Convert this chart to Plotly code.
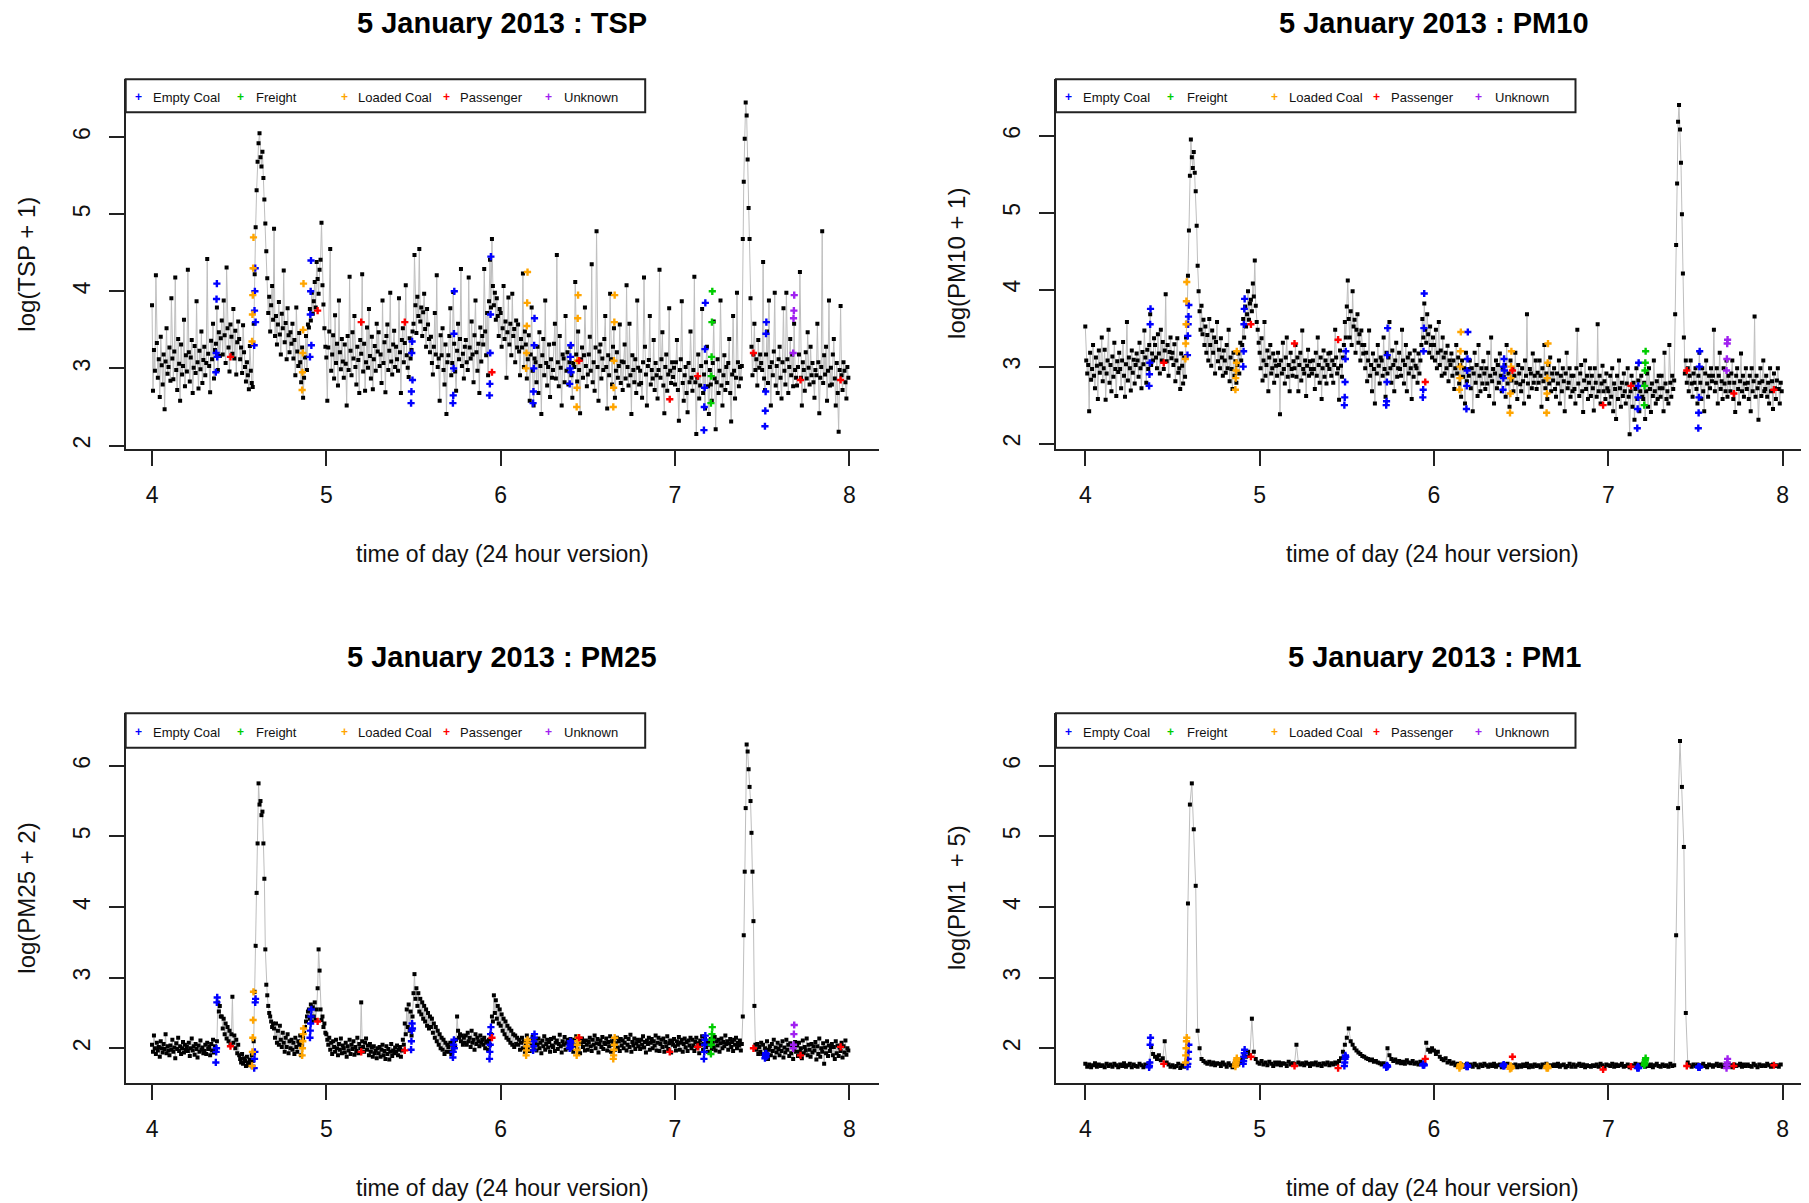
import plotly.graph_objects as go

# ---------------- DATA ----------------
# Each row holds the readings of one 6-minute block (0.1 h) from 04:00 to 08:00.
block_hours = 0.1
start_hour = 4

tsp_rows = [
    [3.82, 2.71, 3.24, 2.97, 4.21, 3.33, 2.88, 3.12, 2.63, 3.41, 3.04, 2.79, 3.18, 2.47, 3.09, 3.52, 2.93, 3.02],
    [3.27, 2.84, 3.91, 3.13, 2.86, 3.22, 4.18, 2.98, 2.72, 3.38, 3.06, 2.58, 3.31, 2.92, 3.03, 3.63, 2.77, 3.17],
    [2.96, 4.28, 3.21, 2.83, 3.14, 3.37, 2.68, 3.01, 3.29, 2.94, 3.87, 3.08, 2.74, 3.23, 2.99, 3.48, 2.81, 3.11],
    [3.28, 2.91, 3.07, 4.42, 3.19, 3.03, 2.69, 3.36, 3.12, 3.58, 2.87, 3.24, 3.32, 3.79, 2.98, 3.47, 3.16, 3.39],
    [3.62, 3.18, 3.88, 3.43, 3.07, 4.31, 3.52, 3.27, 2.96, 3.57, 3.41, 3.19, 3.77, 3.13, 3.49, 2.92, 3.34, 3.61],
    [3.38, 3.12, 3.27, 2.94, 3.56, 3.21, 3.02, 2.83, 3.08, 2.91, 2.73, 3.29, 2.97, 2.81, 2.76, 3.58, 4.22, 4.83],
    [5.31, 5.68, 5.92, 6.05, 5.74, 5.62, 5.81, 5.47, 5.19, 4.88, 4.52, 4.17, 3.72, 3.93, 3.48, 3.82, 4.07, 3.63],
    [4.81, 3.42, 3.68, 3.31, 3.57, 3.86, 3.44, 3.18, 3.71, 3.52, 4.27, 3.34, 3.59, 3.12, 3.78, 3.43, 3.21, 3.47],
    [3.32, 3.58, 3.13, 3.37, 2.91, 3.79, 3.22, 3.03, 3.46, 3.08, 2.82, 3.27, 2.62, 2.88, 3.14, 3.42, 2.98, 3.57],
    [3.53, 3.77, 3.62, 3.98, 3.71, 3.87, 4.12, 3.79, 4.38, 4.16, 3.97, 4.28, 4.41, 4.89, 4.08, 3.83, 3.52, 3.28],
    [3.14, 2.58, 3.27, 3.48, 4.55, 2.97, 3.18, 3.43, 2.87, 3.69, 3.07, 3.32, 2.78, 3.88, 3.21, 2.99, 3.38, 3.09],
    [2.88, 3.31, 3.06, 2.52, 3.42, 2.98, 4.19, 3.23, 2.91, 3.47, 3.13, 3.68, 3.02, 2.79, 3.28, 3.11, 2.68, 3.37],
    [3.19, 4.22, 2.96, 3.32, 2.71, 3.08, 3.53, 3.01, 3.77, 3.16, 2.87, 3.41, 2.73, 3.12, 3.29, 2.97, 3.58, 3.22],
    [3.47, 3.03, 3.18, 2.81, 3.88, 3.07, 3.34, 2.69, 3.42, 3.57, 2.98, 3.23, 3.98, 3.09, 2.92, 3.31, 3.49, 3.02],
    [3.28, 3.12, 2.97, 3.91, 3.21, 2.68, 3.37, 3.52, 3.08, 3.33, 4.08, 3.17, 3.01, 2.89, 3.39, 3.13, 3.24, 3.48],
    [3.58, 4.47, 3.82, 3.46, 3.93, 3.68, 4.55, 3.61, 3.79, 3.42, 3.73, 3.97, 3.51, 3.28, 3.77, 3.57, 3.38, 3.21],
    [3.41, 3.07, 2.92, 3.28, 3.72, 3.18, 4.21, 3.02, 3.13, 2.58, 3.43, 3.17, 3.52, 2.98, 2.79, 3.31, 2.41, 3.08],
    [3.17, 3.42, 3.78, 2.91, 3.07, 3.99, 3.32, 2.96, 2.71, 3.23, 3.58, 3.12, 3.38, 4.29, 3.03, 3.19, 2.87, 3.28],
    [3.37, 3.08, 2.98, 4.18, 3.27, 3.13, 3.61, 3.18, 2.82, 3.43, 3.88, 3.21, 2.97, 3.32, 2.68, 3.53, 3.09, 3.42],
    [3.31, 4.29, 3.48, 3.17, 3.72, 2.91, 3.87, 4.41, 3.79, 4.68, 4.07, 3.82, 3.98, 3.63, 3.91, 3.68, 3.42, 3.77],
    [3.72, 3.28, 3.52, 4.07, 3.38, 3.61, 2.88, 3.47, 3.92, 3.31, 3.58, 3.17, 3.97, 3.42, 3.51, 3.08, 3.62, 3.27],
    [3.57, 3.22, 2.91, 3.38, 3.27, 4.23, 3.02, 3.48, 3.31, 2.87, 3.12, 3.43, 2.58, 3.18, 3.79, 2.97, 2.52, 3.13],
    [3.08, 2.82, 3.28, 2.68, 3.47, 3.03, 2.41, 3.17, 3.38, 2.91, 3.88, 3.07, 2.78, 3.02, 3.31, 2.63, 3.12, 2.88],
    [2.98, 3.32, 3.58, 2.87, 4.47, 3.08, 2.77, 3.42, 3.01, 2.52, 3.18, 3.13, 2.82, 3.68, 2.97, 3.21, 2.79, 3.08],
    [3.28, 2.91, 2.62, 3.07, 3.02, 4.12, 3.18, 2.83, 3.48, 2.98, 2.42, 3.12, 3.27, 2.88, 3.17, 3.79, 3.03, 2.77],
    [2.92, 3.18, 3.41, 2.97, 4.35, 2.82, 3.08, 2.71, 3.27, 4.78, 3.02, 2.58, 3.22, 3.31, 2.87, 3.13, 2.98, 3.38],
    [3.68, 3.02, 2.48, 3.17, 2.91, 3.97, 3.12, 2.79, 3.28, 3.52, 2.62, 2.97, 3.21, 2.88, 3.03, 3.57, 2.81, 3.09],
    [2.72, 3.08, 3.31, 2.87, 4.08, 3.02, 2.78, 3.58, 2.91, 2.41, 3.17, 2.98, 2.82, 3.12, 2.68, 3.88, 3.01, 2.79],
    [2.97, 2.81, 2.62, 3.08, 4.18, 3.28, 2.92, 2.52, 3.03, 3.11, 3.68, 2.79, 2.98, 2.87, 3.37, 2.72, 3.07, 2.91],
    [2.61, 2.98, 4.28, 2.88, 3.12, 3.47, 2.78, 2.42, 3.02, 3.18, 2.71, 2.92, 3.78, 2.97, 2.81, 3.08, 2.89, 3.01],
    [2.79, 3.08, 3.37, 2.72, 2.32, 2.98, 3.12, 3.87, 2.81, 2.58, 2.91, 3.02, 2.68, 2.43, 3.07, 2.82, 3.48, 2.88],
    [2.71, 2.98, 4.19, 2.82, 2.15, 2.88, 3.18, 2.61, 2.78, 3.03, 3.77, 2.68, 2.92, 2.48, 3.08, 3.28, 2.77, 2.41],
    [2.98, 2.79, 2.58, 3.07, 3.61, 2.87, 2.21, 2.82, 3.12, 2.68, 2.97, 3.88, 2.78, 2.52, 2.91, 3.17, 2.72, 3.02],
    [2.81, 3.07, 3.38, 2.68, 2.31, 2.92, 3.68, 2.97, 2.61, 2.88, 3.98, 3.08, 2.77, 3.02, 2.87, 3.03, 4.68, 5.42],
    [5.98, 6.45, 6.28, 5.71, 5.08, 4.68, 3.91, 3.28, 2.91, 3.18, 3.58, 2.98, 3.12, 2.78, 3.37, 3.01, 3.18, 3.07],
    [2.98, 4.38, 2.87, 2.72, 3.18, 3.48, 2.81, 3.88, 3.02, 2.52, 3.08, 2.91, 3.22, 3.98, 2.78, 3.03, 2.68, 3.12],
    [3.28, 2.88, 2.61, 3.08, 3.78, 2.97, 2.79, 3.98, 3.12, 2.68, 3.02, 3.38, 2.91, 3.18, 2.77, 3.58, 2.98, 2.88],
    [2.78, 3.02, 3.18, 4.25, 2.88, 2.52, 3.08, 2.98, 2.71, 3.21, 2.87, 3.47, 3.01, 2.79, 3.28, 2.91, 3.07, 2.82],
    [2.62, 2.98, 2.91, 3.58, 3.08, 2.42, 2.88, 3.02, 4.78, 2.81, 3.17, 2.92, 3.28, 2.58, 2.97, 3.88, 2.78, 3.01],
    [2.79, 3.18, 3.38, 2.87, 2.52, 3.07, 2.68, 2.18, 2.98, 3.81, 2.91, 2.72, 3.08, 2.97, 2.82, 2.61, 3.02, 2.88],
]

pm10_rows = [
    [3.52, 3.08, 2.91, 3.02, 2.42, 3.18, 2.83, 2.97, 3.28, 2.88, 2.72, 3.12, 3.01, 2.58, 3.21, 2.92, 3.03, 3.38],
    [2.81, 2.98, 3.22, 2.57, 2.91, 3.08, 3.48, 2.79, 3.02, 2.68, 3.13, 2.87, 3.31, 2.97, 2.62, 3.07, 2.93, 3.18],
    [2.97, 2.72, 3.08, 3.32, 2.88, 2.61, 3.03, 3.58, 2.82, 3.12, 2.98, 2.69, 3.21, 2.92, 3.09, 2.78, 3.02, 3.17],
    [3.08, 2.87, 3.31, 2.98, 2.72, 3.19, 3.03, 3.47, 3.12, 2.79, 3.22, 2.97, 3.28, 3.68, 3.02, 3.17, 3.08, 3.37],
    [3.28, 3.12, 2.98, 3.42, 3.17, 2.91, 3.48, 3.08, 3.32, 2.97, 3.21, 3.94, 3.07, 3.28, 2.88, 3.19, 3.38, 3.11],
    [3.18, 3.02, 3.29, 2.81, 3.08, 3.37, 2.92, 2.98, 2.71, 3.17, 3.01, 2.78, 3.12, 2.87, 3.38, 3.57, 4.18, 4.77],
    [5.48, 5.95, 5.72, 5.58, 5.79, 5.52, 5.28, 4.83, 4.31, 3.98, 3.72, 3.48, 3.79, 3.42, 3.61, 3.28, 3.52, 3.18],
    [3.41, 3.08, 3.62, 3.28, 3.01, 3.47, 3.18, 3.38, 2.91, 3.32, 3.58, 3.07, 3.22, 2.98, 3.37, 3.12, 2.88, 3.21],
    [3.08, 2.92, 3.28, 2.98, 3.48, 2.81, 3.12, 2.97, 2.71, 3.18, 2.88, 3.07, 2.79, 3.02, 3.17, 2.91, 3.31, 3.08],
    [3.28, 3.62, 3.38, 3.78, 3.52, 3.68, 3.98, 3.61, 3.82, 3.87, 3.72, 4.08, 3.91, 4.38, 3.79, 3.58, 3.48, 3.31],
    [3.18, 2.98, 3.37, 2.82, 3.08, 3.58, 2.88, 3.02, 3.21, 2.68, 3.12, 3.28, 2.91, 2.98, 3.17, 2.79, 3.08, 3.01],
    [2.88, 3.18, 3.02, 2.38, 3.08, 2.91, 3.31, 2.97, 2.78, 3.12, 3.38, 2.87, 3.02, 2.68, 3.18, 2.97, 2.88, 3.07],
    [2.98, 3.28, 2.87, 3.12, 2.68, 3.02, 3.18, 2.82, 3.47, 2.97, 2.91, 3.08, 2.62, 3.01, 3.22, 2.88, 3.07, 2.97],
    [2.91, 3.08, 2.97, 2.71, 3.18, 2.88, 3.38, 3.02, 2.79, 3.12, 2.58, 2.98, 3.21, 2.87, 3.08, 2.78, 3.02, 3.17],
    [2.97, 3.18, 2.88, 3.08, 2.79, 3.02, 3.48, 3.12, 2.91, 2.98, 2.57, 3.21, 3.01, 2.87, 3.12, 3.28, 3.58, 3.38],
    [3.78, 4.12, 3.62, 3.38, 3.72, 3.28, 3.98, 3.52, 3.61, 3.18, 3.48, 3.68, 3.31, 3.42, 3.08, 3.47, 3.28, 3.17],
    [3.28, 2.98, 3.18, 2.81, 3.08, 3.47, 2.88, 3.02, 2.68, 3.17, 2.97, 2.52, 3.08, 2.91, 3.28, 3.01, 2.78, 3.12],
    [3.08, 2.88, 3.38, 2.97, 2.61, 3.18, 2.91, 3.12, 3.58, 2.98, 2.79, 3.21, 3.02, 2.68, 3.08, 3.31, 2.87, 2.98],
    [3.18, 2.97, 2.88, 3.48, 3.08, 2.78, 3.02, 3.28, 2.68, 3.12, 2.91, 3.17, 2.98, 2.58, 3.08, 2.87, 3.21, 3.01],
    [2.98, 2.79, 3.17, 2.91, 3.08, 3.28, 3.62, 3.38, 3.82, 3.48, 3.31, 3.68, 3.42, 3.18, 3.52, 3.28, 3.12, 3.38],
    [3.28, 3.08, 3.48, 2.98, 3.18, 3.58, 3.02, 3.21, 2.88, 3.38, 3.12, 2.91, 3.18, 2.98, 3.27, 2.81, 3.08, 3.02],
    [3.17, 2.88, 3.08, 2.71, 2.98, 3.28, 2.91, 3.12, 2.78, 3.02, 2.61, 3.08, 2.87, 2.98, 2.52, 3.18, 2.81, 2.97],
    [2.88, 3.08, 2.72, 2.98, 2.42, 2.91, 3.18, 2.79, 3.02, 2.62, 3.28, 2.88, 2.68, 2.98, 2.78, 3.07, 2.91, 2.71],
    [2.98, 2.78, 3.18, 2.62, 2.88, 3.38, 2.81, 2.97, 2.52, 2.91, 3.08, 2.72, 3.02, 2.79, 3.17, 2.88, 2.68, 2.98],
    [2.87, 3.02, 2.61, 3.28, 2.78, 2.91, 2.48, 3.08, 2.82, 2.97, 2.68, 2.88, 3.18, 2.79, 2.58, 3.02, 2.91, 2.77],
    [2.68, 2.98, 2.81, 2.52, 3.08, 2.88, 3.68, 2.78, 2.61, 2.97, 2.91, 2.72, 3.17, 2.79, 2.88, 3.08, 2.71, 2.92],
    [2.79, 3.08, 2.88, 2.48, 2.98, 2.81, 3.28, 2.72, 2.91, 2.58, 3.02, 2.78, 3.12, 2.68, 2.91, 2.82, 2.98, 2.71],
    [2.61, 2.91, 2.78, 3.08, 2.52, 2.88, 2.68, 2.98, 2.81, 2.42, 2.91, 3.18, 2.72, 2.79, 2.98, 2.61, 2.88, 2.68],
    [2.88, 2.71, 2.52, 2.98, 3.48, 2.78, 2.62, 2.91, 3.02, 2.68, 2.41, 2.82, 3.08, 2.71, 2.88, 2.58, 2.79, 2.98],
    [2.62, 2.88, 2.72, 2.43, 2.98, 2.79, 2.61, 3.55, 2.68, 2.88, 2.52, 2.78, 3.01, 2.68, 2.81, 2.58, 2.91, 2.72],
    [2.68, 2.52, 2.88, 2.61, 2.98, 2.42, 2.78, 2.71, 2.32, 2.88, 2.58, 3.08, 2.72, 2.48, 2.79, 2.62, 2.91, 2.68],
    [2.52, 2.78, 2.98, 2.61, 2.12, 2.68, 2.88, 2.48, 2.79, 2.31, 2.71, 2.98, 2.58, 2.82, 2.42, 2.68, 2.88, 2.61],
    [2.58, 2.79, 2.32, 2.68, 2.91, 2.48, 2.98, 2.71, 2.41, 2.78, 2.62, 3.08, 2.68, 2.52, 2.81, 2.58, 2.88, 2.72],
    [2.61, 2.88, 2.72, 2.42, 3.18, 2.78, 2.58, 2.68, 2.52, 3.28, 2.79, 2.61, 2.88, 2.71, 2.82, 3.68, 4.58, 5.38],
    [6.18, 6.40, 6.08, 5.65, 4.98, 4.21, 3.38, 2.91, 3.08, 2.79, 2.98, 2.68, 2.88, 3.08, 2.78, 2.61, 2.91, 2.79],
    [2.98, 2.71, 2.52, 2.88, 3.18, 2.79, 2.58, 2.98, 2.68, 2.42, 2.91, 3.08, 2.78, 2.61, 2.88, 2.72, 2.98, 2.81],
    [2.88, 3.48, 2.68, 2.79, 2.98, 2.52, 2.88, 3.18, 2.71, 2.81, 2.58, 2.98, 2.78, 2.68, 3.08, 2.61, 2.88, 2.79],
    [2.68, 2.91, 3.08, 2.58, 2.79, 2.41, 2.88, 2.98, 2.71, 2.52, 2.81, 3.17, 2.68, 2.88, 2.61, 2.78, 2.98, 2.71],
    [2.79, 2.58, 2.88, 2.42, 2.98, 2.68, 2.81, 3.65, 2.61, 2.88, 2.72, 2.31, 2.79, 2.98, 2.62, 2.81, 3.08, 2.68],
    [2.71, 2.88, 2.61, 2.79, 2.52, 2.98, 2.68, 2.81, 2.45, 2.91, 2.72, 2.58, 2.82, 2.98, 2.71, 2.52, 2.79, 2.68],
]

pm25_rows = [
    [2.05, 1.95, 2.18, 2.00, 1.92, 2.08, 1.97, 2.02, 1.88, 2.10, 2.00, 1.94, 2.06, 1.99, 2.20, 1.93, 2.03, 1.97],
    [1.90, 2.04, 1.98, 2.12, 1.95, 2.01, 1.86, 2.07, 1.99, 2.15, 1.96, 2.03, 1.92, 2.00, 2.09, 1.94, 2.05, 1.98],
    [2.02, 1.96, 2.08, 1.89, 2.00, 2.14, 1.97, 2.03, 1.91, 2.06, 1.99, 1.87, 2.04, 1.95, 2.11, 1.98, 2.01, 1.93],
    [1.96, 2.05, 1.92, 2.08, 1.99, 2.02, 1.90, 2.06, 1.97, 2.12, 1.94, 2.03, 1.98, 2.10, 2.65, 2.52, 2.60, 2.45],
    [2.45, 2.28, 2.42, 2.20, 2.35, 2.14, 2.30, 2.10, 2.25, 2.05, 2.20, 2.73, 2.08, 2.18, 2.00, 2.12, 1.93, 2.05],
    [1.90, 1.85, 1.80, 1.92, 1.78, 1.86, 1.82, 1.75, 1.88, 1.80, 1.76, 1.84, 1.79, 1.90, 1.82, 2.10, 2.80, 3.45],
    [4.20, 4.90, 5.75, 5.45, 5.50, 5.30, 5.35, 4.90, 4.40, 3.40, 2.90, 2.75, 2.60, 2.50, 2.45, 2.38, 2.30, 2.35],
    [2.28, 2.15, 2.35, 2.08, 2.25, 2.05, 2.32, 2.12, 2.02, 2.22, 2.08, 1.95, 2.15, 2.02, 2.20, 1.93, 2.10, 2.00],
    [2.12, 1.98, 2.08, 1.92, 2.15, 2.02, 1.95, 2.10, 2.05, 2.18, 1.90, 2.05, 2.15, 2.22, 2.30, 2.38, 2.45, 2.52],
    [2.55, 2.42, 2.62, 2.38, 2.58, 2.45, 2.65, 2.40, 2.55, 2.85, 3.40, 3.10, 2.55, 2.40, 2.45, 2.30, 2.35, 2.22],
    [2.20, 2.12, 2.05, 2.15, 1.98, 2.08, 1.92, 2.10, 2.02, 1.95, 2.12, 2.00, 1.90, 2.06, 1.98, 2.14, 1.93, 2.04],
    [2.00, 1.94, 2.08, 1.88, 2.03, 1.97, 2.12, 1.92, 2.05, 1.99, 2.10, 1.91, 2.02, 1.96, 2.15, 1.93, 2.06, 2.00],
    [2.65, 2.10, 2.02, 1.95, 2.08, 2.14, 1.98, 2.04, 1.90, 2.06, 1.95, 2.01, 1.88, 2.03, 1.93, 1.97, 1.86, 2.00],
    [1.93, 2.02, 1.88, 1.98, 2.05, 1.90, 1.96, 1.85, 2.03, 1.92, 1.99, 1.84, 1.95, 2.06, 1.89, 1.97, 1.93, 2.01],
    [1.95, 2.04, 1.90, 1.98, 2.02, 1.88, 1.97, 2.12, 2.05, 2.35, 2.20, 2.55, 2.30, 2.62, 2.25, 2.52, 2.18, 2.45],
    [2.78, 3.05, 2.70, 2.85, 2.60, 2.78, 2.52, 2.70, 2.48, 2.65, 2.42, 2.60, 2.38, 2.55, 2.32, 2.50, 2.28, 2.45],
    [2.30, 2.42, 2.22, 2.35, 2.15, 2.30, 2.10, 2.25, 2.05, 2.20, 2.00, 2.15, 1.98, 2.12, 1.92, 2.08, 1.95, 2.05],
    [2.02, 1.95, 2.08, 1.92, 2.05, 1.98, 2.10, 2.02, 2.12, 2.45, 2.25, 2.15, 2.20, 2.10, 2.18, 2.05, 2.15, 2.08],
    [2.18, 2.05, 2.22, 2.10, 2.15, 2.02, 2.25, 2.08, 2.12, 1.98, 2.20, 2.06, 2.15, 2.10, 2.03, 2.18, 2.08, 2.12],
    [2.05, 2.15, 2.00, 2.10, 2.08, 1.98, 2.12, 2.05, 2.20, 2.45, 2.38, 2.75, 2.50, 2.68, 2.42, 2.60, 2.35, 2.55],
    [2.32, 2.48, 2.25, 2.42, 2.20, 2.38, 2.15, 2.32, 2.12, 2.28, 2.08, 2.25, 2.05, 2.20, 2.02, 2.18, 2.06, 2.15],
    [2.05, 2.12, 1.98, 2.08, 2.15, 2.00, 2.10, 1.95, 2.06, 2.18, 2.02, 2.09, 1.96, 2.12, 2.04, 2.16, 1.99, 2.07],
    [2.10, 1.97, 2.05, 2.14, 2.00, 2.08, 1.93, 2.11, 2.03, 2.17, 1.98, 2.06, 2.12, 2.01, 2.09, 1.95, 2.13, 2.04],
    [2.02, 2.15, 1.96, 2.08, 2.11, 1.99, 2.06, 2.19, 2.03, 1.94, 2.10, 2.05, 2.16, 1.98, 2.07, 2.12, 2.00, 2.09],
    [2.13, 2.01, 2.08, 1.95, 2.12, 2.04, 2.17, 1.99, 2.06, 2.10, 1.93, 2.08, 2.14, 2.02, 2.09, 1.97, 2.11, 2.05],
    [1.98, 2.09, 2.15, 2.03, 1.96, 2.12, 2.05, 2.18, 2.00, 2.07, 2.13, 1.94, 2.06, 2.11, 2.02, 2.16, 1.99, 2.08],
    [2.06, 2.14, 1.97, 2.09, 2.03, 2.17, 1.95, 2.10, 2.05, 2.12, 1.98, 2.07, 2.15, 2.01, 2.10, 1.96, 2.13, 2.04],
    [2.11, 2.00, 2.08, 2.16, 1.97, 2.05, 2.13, 2.02, 2.19, 1.95, 2.09, 2.04, 2.14, 1.99, 2.07, 2.12, 2.03, 2.10],
    [1.99, 2.12, 2.05, 2.17, 2.01, 2.09, 1.94, 2.11, 2.06, 2.15, 1.98, 2.08, 2.13, 2.00, 2.10, 2.04, 2.18, 1.97],
    [2.08, 2.15, 1.96, 2.06, 2.12, 2.02, 2.14, 1.95, 2.09, 2.03, 2.17, 1.99, 2.07, 2.11, 1.94, 2.10, 2.05, 2.13],
    [2.03, 1.97, 2.10, 2.05, 2.16, 1.98, 2.08, 2.12, 1.95, 2.06, 2.14, 2.01, 2.09, 1.96, 2.11, 2.04, 2.15, 2.00],
    [2.12, 2.04, 1.96, 2.09, 2.15, 2.01, 2.07, 1.93, 2.11, 2.05, 2.17, 1.98, 2.06, 2.13, 2.02, 2.08, 1.95, 2.10],
    [2.05, 2.13, 1.99, 2.08, 2.02, 2.16, 1.97, 2.10, 2.04, 2.12, 1.95, 2.07, 2.14, 2.00, 2.09, 2.03, 2.18, 2.06],
    [2.10, 1.98, 2.07, 2.13, 2.02, 2.09, 1.96, 2.12, 2.05, 2.15, 2.00, 2.08, 2.04, 2.11, 1.97, 2.06, 2.45, 3.60],
    [4.50, 5.40, 6.30, 6.20, 5.95, 5.70, 5.50, 5.05, 4.50, 3.80, 2.60, 2.05, 1.98, 2.06, 1.92, 2.02, 1.95, 2.08],
    [1.92, 2.05, 1.88, 2.00, 1.95, 2.10, 1.85, 1.98, 2.03, 1.90, 2.06, 1.96, 2.12, 1.87, 2.01, 1.94, 2.08, 1.99],
    [1.90, 2.04, 1.96, 2.10, 1.87, 2.01, 1.94, 2.12, 1.98, 2.05, 1.89, 2.07, 1.93, 2.02, 1.85, 1.99, 2.09, 1.95],
    [2.04, 1.89, 2.08, 1.95, 2.00, 1.86, 2.11, 1.93, 2.02, 1.97, 2.14, 1.90, 2.05, 1.98, 1.88, 2.06, 1.94, 2.03],
    [1.97, 2.09, 1.84, 2.03, 1.92, 2.14, 1.88, 2.00, 1.95, 2.07, 1.78, 2.01, 1.93, 2.10, 1.89, 2.04, 1.96, 2.02],
    [2.06, 1.90, 2.02, 1.85, 2.10, 1.93, 2.04, 1.89, 2.01, 1.96, 2.08, 1.87, 2.03, 1.94, 2.11, 1.91, 2.00, 1.97],
]

pm1_rows = [
    [1.78, 1.74, 1.77, 1.73, 1.76, 1.79, 1.74, 1.77, 1.75],
    [1.76, 1.73, 1.78, 1.75, 1.77, 1.74, 1.78, 1.76, 1.73],
    [1.77, 1.75, 1.79, 1.74, 1.76, 1.78, 1.73, 1.77, 1.75],
    [1.74, 1.78, 1.76, 1.73, 1.77, 1.75, 1.79, 2.02, 1.92],
    [1.88, 1.85, 1.90, 1.83, 1.86, 2.10, 1.80, 1.77, 1.74],
    [1.76, 1.73, 1.75, 1.78, 1.72, 1.76, 1.74, 1.80, 4.05],
    [5.45, 5.75, 5.10, 4.30, 2.25, 2.00, 1.85, 1.82, 1.80],
    [1.78, 1.81, 1.77, 1.80, 1.76, 1.79, 1.78, 1.75, 1.80],
    [1.77, 1.74, 1.79, 1.76, 1.73, 1.78, 1.80, 1.77, 1.82],
    [1.86, 1.92, 1.88, 1.95, 1.90, 2.42, 1.95, 1.85, 1.80],
    [1.78, 1.82, 1.77, 1.80, 1.76, 1.81, 1.78, 1.75, 1.80],
    [1.77, 1.80, 1.76, 1.79, 1.78, 1.75, 1.81, 1.77, 1.79],
    [1.78, 2.05, 1.80, 1.77, 1.79, 1.76, 1.80, 1.78, 1.75],
    [1.79, 1.77, 1.80, 1.76, 1.78, 1.75, 1.79, 1.77, 1.80],
    [1.76, 1.79, 1.77, 1.80, 1.78, 1.82, 1.86, 1.95, 2.05],
    [2.15, 2.28, 2.10, 2.05, 2.00, 1.97, 1.94, 1.92, 1.89],
    [1.88, 1.86, 1.85, 1.83, 1.84, 1.81, 1.82, 1.80, 1.79],
    [1.77, 1.79, 1.76, 2.00, 1.90, 1.85, 1.82, 1.84, 1.80],
    [1.82, 1.79, 1.81, 1.78, 1.83, 1.80, 1.79, 1.82, 1.78],
    [1.80, 1.77, 1.81, 1.79, 1.78, 2.08, 1.98, 1.95, 2.00],
    [1.97, 1.92, 1.95, 1.88, 1.85, 1.83, 1.86, 1.80, 1.82],
    [1.78, 1.80, 1.76, 1.78, 1.75, 1.77, 1.74, 1.76, 1.78],
    [1.75, 1.77, 1.74, 1.78, 1.76, 1.73, 1.77, 1.75, 1.78],
    [1.76, 1.74, 1.77, 1.75, 1.78, 1.74, 1.76, 1.77, 1.73],
    [1.77, 1.75, 1.78, 1.74, 1.76, 1.75, 1.77, 1.73, 1.76],
    [1.74, 1.77, 1.75, 1.78, 1.73, 1.76, 1.74, 1.77, 1.75],
    [1.76, 1.73, 1.77, 1.75, 1.78, 1.74, 1.76, 1.75, 1.77],
    [1.75, 1.78, 1.74, 1.76, 1.77, 1.73, 1.75, 1.78, 1.74],
    [1.77, 1.74, 1.76, 1.78, 1.75, 1.77, 1.73, 1.76, 1.75],
    [1.74, 1.76, 1.75, 1.77, 1.74, 1.78, 1.76, 1.73, 1.77],
    [1.76, 1.75, 1.78, 1.74, 1.77, 1.75, 1.76, 1.78, 1.74],
    [1.75, 1.77, 1.73, 1.76, 1.75, 1.78, 1.74, 1.77, 1.76],
    [1.78, 1.74, 1.76, 1.75, 1.77, 1.73, 1.76, 1.78, 1.75],
    [1.74, 1.77, 1.75, 1.76, 1.74, 1.78, 1.75, 1.76, 3.60],
    [5.40, 6.35, 5.70, 4.85, 2.50, 1.80, 1.76, 1.74, 1.77],
    [1.75, 1.77, 1.74, 1.76, 1.78, 1.75, 1.73, 1.77, 1.76],
    [1.74, 1.76, 1.78, 1.75, 1.77, 1.74, 1.76, 1.75, 1.78],
    [1.76, 1.73, 1.77, 1.75, 1.76, 1.78, 1.74, 1.77, 1.75],
    [1.77, 1.75, 1.74, 1.78, 1.76, 1.73, 1.77, 1.75, 1.76],
    [1.75, 1.78, 1.76, 1.74, 1.77, 1.75, 1.76, 1.74, 1.77],
]

# train passages (time of day, hours) and the readings marked for each train type
empty_coal_time = [
    4.366, 4.368, 4.370, 4.372, 4.374,
    4.586, 4.588, 4.590, 4.592, 4.594,
    4.906, 4.908, 4.910, 4.912, 4.914,
    5.486, 5.488, 5.490, 5.492, 5.494,
    5.726, 5.728, 5.730, 5.732, 5.734,
    5.936, 5.938, 5.940, 5.942, 5.944,
    6.186, 6.188, 6.190, 6.192, 6.194,
    6.396, 6.398, 6.400, 6.402, 6.404,
    7.166, 7.168, 7.170, 7.172, 7.174,
    7.516, 7.518, 7.520, 7.522, 7.524,
]
empty_coal_tsp = [2.95, 3.2, 3.9, 4.1, 3.15, 3.3, 3.75, 4.0, 4.3, 3.6,
                  3.15, 3.7, 4.0, 4.4, 3.3, 2.55, 2.7, 3.2, 3.35, 2.85,
                  2.55, 2.65, 3.0, 3.45, 4.0, 2.65, 2.8, 3.2, 3.7, 4.45,
                  2.55, 2.7, 3.0, 3.3, 3.65, 2.8, 3.0, 3.15, 3.3, 2.95,
                  2.2, 2.5, 2.75, 3.25, 3.85, 2.25, 2.45, 2.7, 3.45, 3.6]
empty_coal_pm10 = [2.75, 2.9, 3.05, 3.55, 3.75, 3.15, 3.4, 3.55, 3.65, 3.8,
                   3.0, 3.2, 3.55, 3.75, 3.88, 2.5, 2.6, 2.8, 3.1, 3.2,
                   2.5, 2.55, 2.8, 3.15, 3.5, 2.6, 2.7, 3.2, 3.5, 3.95,
                   2.45, 2.75, 2.95, 3.1, 3.45, 2.7, 2.85, 3.0, 3.1, 2.95,
                   2.2, 2.45, 2.6, 2.75, 3.05, 2.2, 2.4, 2.6, 3.0, 3.2]
empty_coal_pm25 = [1.8, 1.95, 2.0, 2.65, 2.72, 1.72, 1.85, 1.95, 2.65, 2.7,
                   2.15, 2.25, 2.35, 2.45, 2.55, 1.98, 2.1, 2.25, 2.35, 2.28,
                   1.87, 1.95, 2.05, 2.12, 2.0, 1.85, 1.95, 2.05, 2.2, 2.3,
                   1.97, 2.03, 2.1, 2.15, 2.2, 2.0, 2.05, 2.1, 2.02, 2.08,
                   1.85, 1.95, 2.05, 2.12, 2.18, 1.86, 1.9, 1.93, 1.88, 1.92]
empty_coal_pm1 = [1.73, 1.75, 1.8, 2.05, 2.15, 1.74, 1.78, 1.85, 1.95, 2.05,
                  1.78, 1.82, 1.88, 1.93, 1.98, 1.75, 1.8, 1.85, 1.9, 1.88,
                  1.73, 1.74, 1.76, 1.75, 1.74, 1.76, 1.77, 1.78, 1.77, 1.76,
                  1.74, 1.75, 1.76, 1.75, 1.74, 1.76, 1.75, 1.77, 1.76, 1.75,
                  1.72, 1.73, 1.74, 1.73, 1.72, 1.73, 1.74, 1.73, 1.74, 1.73]

loaded_coal_time = [
    4.574, 4.576, 4.578, 4.580, 4.582,
    4.861, 4.863, 4.865, 4.867, 4.869,
    6.146, 6.148, 6.150, 6.152, 6.154,
    6.436, 6.438, 6.440, 6.442, 6.444,
    6.646, 6.648, 6.650, 6.652, 6.654,
]
loaded_coal_tsp = [3.35, 3.7, 3.95, 4.3, 4.7, 2.72, 2.95, 3.2, 3.5, 4.1,
                   3.0, 3.2, 3.55, 3.85, 4.25, 2.5, 2.75, 3.1, 3.65, 3.95,
                   2.5, 2.75, 3.1, 3.6, 3.95]
loaded_coal_pm10 = [3.1, 3.3, 3.55, 3.85, 4.1, 2.7, 2.85, 2.95, 3.05, 3.2,
                    2.7, 2.85, 3.0, 3.2, 3.45, 2.4, 2.65, 2.85, 3.0, 3.2,
                    2.4, 2.65, 2.85, 3.05, 3.3]
loaded_coal_pm25 = [1.75, 1.95, 2.15, 2.4, 2.8, 1.9, 2.0, 2.1, 2.2, 2.28,
                    1.9, 1.97, 2.03, 2.08, 2.12, 1.9, 1.98, 2.05, 2.1, 2.15,
                    1.85, 1.9, 1.98, 2.05, 2.15]
loaded_coal_pm1 = [1.8, 1.9, 2.0, 2.1, 2.15, 1.74, 1.77, 1.8, 1.83, 1.86,
                   1.72, 1.74, 1.76, 1.77, 1.75, 1.71, 1.73, 1.75, 1.74, 1.72,
                   1.72, 1.74, 1.75, 1.73, 1.72]

passenger_time = [4.45, 4.95, 5.20, 5.45, 5.95, 6.45, 6.97, 7.13, 7.45, 7.72, 7.95]
passenger_tsp = [3.15, 3.75, 3.6, 3.6, 2.95, 3.1, 2.6, 2.9, 3.2, 2.85, 2.85]
passenger_pm10 = [3.05, 3.55, 3.3, 3.35, 2.8, 2.95, 2.5, 2.75, 2.95, 2.65, 2.7]
passenger_pm25 = [2.03, 2.38, 1.95, 1.97, 2.15, 2.15, 1.95, 2.02, 2.0, 1.9, 2.02]
passenger_pm1 = [1.78, 1.88, 1.75, 1.72, 1.85, 1.88, 1.70, 1.74, 1.75, 1.75, 1.76]

freight_time = [7.206, 7.208, 7.210, 7.212, 7.214]
freight_tsp = [2.55, 2.9, 3.15, 3.6, 4.0]
freight_pm10 = [2.5, 2.75, 2.95, 3.05, 3.2]
freight_pm25 = [1.92, 2.05, 2.12, 2.2, 2.3]
freight_pm1 = [1.76, 1.78, 1.8, 1.83, 1.86]

unknown_time = [7.678, 7.680, 7.682, 7.684]
unknown_tsp = [3.2, 3.65, 3.75, 3.95]
unknown_pm10 = [2.95, 3.1, 3.3, 3.35]
unknown_pm25 = [2.0, 2.05, 2.2, 2.33]
unknown_pm1 = [1.72, 1.76, 1.8, 1.85]

panel_titles = ["5 January 2013 : TSP", "5 January 2013 : PM10",
                "5 January 2013 : PM25", "5 January 2013 : PM1"]
y_titles = ["log(TSP + 1)", "log(PM10 + 1)", "log(PM25 + 2)", "log(PM1  + 5)"]
x_title = "time of day (24 hour version)"
x_ticks = [4, 5, 6, 7, 8]
y_ticks = [2, 3, 4, 5, 6]
category_names = ["Empty Coal", "Freight", "Loaded Coal", "Passenger", "Unknown"]
category_colors = ["#0000FF", "#00CD00", "#FFA500", "#FF0000", "#A020F0"]

# ---------------- LAYOUT GEOMETRY (page pixels) ----------------
PAGE_W, PAGE_H = 1809, 1203
OFF = 8                      # default page margin around the figure
W, H = PAGE_W - OFF, PAGE_H - OFF
FONT = "Liberation Sans, Arial, sans-serif"


def px(x):
    return (x - OFF) / W


def py(y):
    return 1 - (y - OFF) / H


panels = [
    dict(l=125.7, r=879.3, t=79.3, b=448.6, xr=[3.849, 8.172], yr=[1.96, 6.75]),
    dict(l=1056.0, r=1809.0, t=79.3, b=448.6, xr=[3.832, 8.151], yr=[1.935, 6.733]),
    dict(l=125.7, r=879.3, t=713.3, b=1082.7, xr=[3.849, 8.172], yr=[1.513, 6.742]),
    dict(l=1056.0, r=1809.0, t=713.3, b=1082.7, xr=[3.832, 8.151], yr=[1.513, 6.742]),
]

series_rows = [tsp_rows, pm10_rows, pm25_rows, pm1_rows]
train_values = [
    [empty_coal_tsp, freight_tsp, loaded_coal_tsp, passenger_tsp, unknown_tsp],
    [empty_coal_pm10, freight_pm10, loaded_coal_pm10, passenger_pm10, unknown_pm10],
    [empty_coal_pm25, freight_pm25, loaded_coal_pm25, passenger_pm25, unknown_pm25],
    [empty_coal_pm1, freight_pm1, loaded_coal_pm1, passenger_pm1, unknown_pm1],
]
train_times = [empty_coal_time, freight_time, loaded_coal_time, passenger_time, unknown_time]

fig = go.Figure()
annotations = []
shapes = []

for k, p in enumerate(panels):
    idx = "" if k == 0 else str(k + 1)
    xa, ya = "x" + idx, "y" + idx
    times, vals = [], []
    for r, row in enumerate(series_rows[k]):
        for j, v in enumerate(row):
            times.append(start_hour + r * block_hours + j * block_hours / len(row))
            vals.append(v)
    fig.add_trace(go.Scatter(
        x=times, y=vals, mode="lines+markers", xaxis=xa, yaxis=ya,
        line=dict(color="#BEBEBE", width=1),
        marker=dict(symbol="square", size=4, color="black", line=dict(width=0)),
        showlegend=False, hoverinfo="skip"))
    for c in range(5):
        fig.add_trace(go.Scatter(
            x=train_times[c], y=train_values[k][c], mode="markers",
            xaxis=xa, yaxis=ya,
            marker=dict(symbol="cross", size=6, color=category_colors[c],
                        line=dict(width=0)),
            showlegend=False, name=category_names[c]))

    axis_common = dict(showgrid=False, zeroline=False, showline=True,
                       linecolor="#222222", linewidth=2, ticks="outside",
                       ticklen=15, tickwidth=2, tickcolor="#222222",
                       tickfont=dict(family=FONT, size=23, color="#111111"),
                       ticklabelstandoff=10)
    fig.update_layout(**{
        "xaxis" + idx: dict(domain=[px(p["l"]), min(1.0, px(p["r"]))], range=p["xr"],
                            anchor=ya, tickvals=x_ticks, **axis_common),
        "yaxis" + idx: dict(domain=[py(p["b"]), py(p["t"])], range=p["yr"],
                            anchor=xa, tickvals=y_ticks, tickangle=-90,
                            **axis_common),
    })

    cx = (p["l"] + p["r"]) / 2 + (0 if k % 2 == 0 else 1.5)
    annotations.append(dict(
        text=panel_titles[k], x=px(cx), y=py(p["t"] - 56),
        xref="paper", yref="paper", showarrow=False,
        xanchor="center", yanchor="middle",
        font=dict(family=FONT, size=29, color="black", weight="bold")))
    annotations.append(dict(
        text=x_title, x=px((p["l"] + p["r"]) / 2), y=py(p["b"] + 105.5),
        xref="paper", yref="paper", showarrow=False, xanchor="center",
        yanchor="middle", font=dict(family=FONT, size=23, color="#111111")))
    annotations.append(dict(
        text=y_titles[k], x=px(p["l"] - 99), y=py((p["t"] + p["b"]) / 2),
        xref="paper", yref="paper", showarrow=False, textangle=-90,
        xanchor="center", yanchor="middle",
        font=dict(family=FONT, size=24, color="#111111")))

    lt = p["t"]
    lb = lt + (33 if k < 2 else 34.4)
    shapes.append(dict(type="rect", xref="paper", yref="paper",
                       x0=px(p["l"]), x1=px(p["l"] + 519.5), y0=py(lb), y1=py(lt),
                       line=dict(color="#222222", width=2), fillcolor="white",
                       layer="above"))
    sym_off = [12.5, 114.5, 218.5, 320.5, 422.5]
    txt_off = [25, 128.5, 230.5, 332.5, 436.5]
    ly = (lt + lb) / 2 + 2
    for c in range(5):
        annotations.append(dict(
            text="+", x=px(p["l"] + sym_off[c]), y=py(ly - 1), xref="paper",
            yref="paper", showarrow=False, xanchor="center", yanchor="middle",
            font=dict(family=FONT, size=12, color=category_colors[c], weight="bold")))
        annotations.append(dict(
            text=category_names[c], x=px(p["l"] + txt_off[c]), y=py(ly),
            xref="paper", yref="paper", showarrow=False, xanchor="left",
            yanchor="middle", font=dict(family=FONT, size=13, color="#111111")))

fig.update_layout(
    width=W, height=H, margin=dict(l=0, r=0, t=0, b=0),
    paper_bgcolor="white", plot_bgcolor="white",
    annotations=annotations, shapes=shapes, showlegend=False,
    font=dict(family=FONT))

fig.write_html("out.html")
